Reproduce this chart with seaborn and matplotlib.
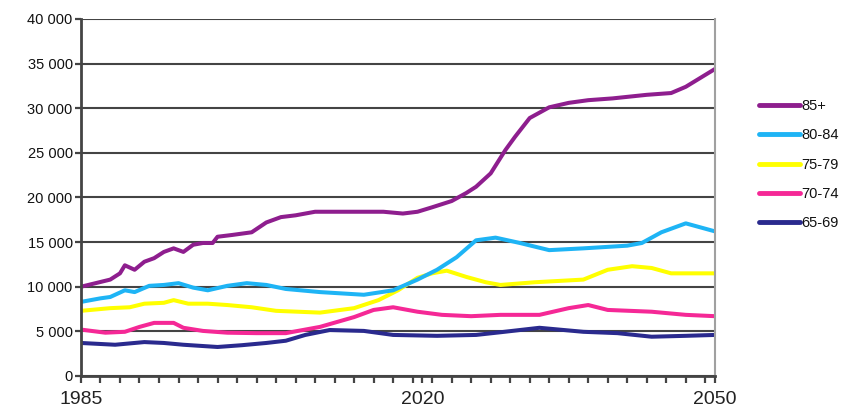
import matplotlib
matplotlib.use('Agg')
import matplotlib.pyplot as plt
import matplotlib.ticker as mticker
import numpy as np
import pandas as pd
import seaborn as sns

sns.set_style('white')
plt.rcParams['font.family'] = ['Liberation Sans', 'DejaVu Sans']

# data
years_85 = [1985, 1988, 1989, 1989.5, 1990.5, 1991.5, 1992.5, 1993.5, 1994.5, 1995.5,
            1996.5, 1997.5, 1998.5, 1999, 2000.5, 2002.5, 2004, 2005.5, 2007, 2009,
            2013, 2016, 2018, 2019.5, 2021, 2023, 2024.5, 2025.5, 2027, 2028.5,
            2029.5, 2031, 2033, 2035, 2037, 2039.5, 2043, 2045.5, 2047, 2050]
vals_85 = [10000, 10800, 11500, 12400, 11900, 12800, 13200, 13900, 14300, 13900,
           14700, 14900, 14900, 15600, 15800, 16100, 17200, 17800, 18000, 18400,
           18400, 18400, 18200, 18400, 18900, 19600, 20500, 21200, 22700, 25300,
           26800, 28900, 30100, 30600, 30900, 31100, 31500, 31700, 32400, 34400]

years_80 = [1985, 1987, 1988, 1989.5, 1990.5, 1992, 1993.5, 1995, 1996.5, 1998,
            2000, 2002, 2004, 2006, 2009.5, 2014, 2017, 2019.5, 2021.5, 2023.5,
            2025.5, 2027.5, 2030, 2033, 2036.5, 2041, 2042.5, 2044.5, 2047, 2050]
vals_80 = [8300, 8700, 8850, 9600, 9400, 10100, 10200, 10400, 9900, 9600,
           10100, 10400, 10200, 9750, 9400, 9100, 9600, 10800, 11900, 13300,
           15200, 15500, 14900, 14100, 14300, 14600, 14900, 16100, 17100, 16200]

years_75 = [1985, 1988, 1990, 1991.5, 1993.5, 1994.5, 1996, 1998, 2000, 2002.5,
            2005, 2009.5, 2013, 2015.5, 2017.5, 2019.5, 2021, 2022.5, 2024.5, 2026.5,
            2028, 2031.5, 2036.5, 2039, 2041.5, 2043.5, 2045.5, 2050]
vals_75 = [7300, 7600, 7700, 8100, 8200, 8500, 8100, 8100, 7950, 7700,
           7300, 7100, 7600, 8500, 9600, 11000, 11500, 11800, 11100, 10500,
           10200, 10500, 10800, 11900, 12300, 12100, 11500, 11500]

years_70 = [1985, 1987.5, 1989.5, 1991, 1992.5, 1994.5, 1995.5, 1997.5, 2000, 2003,
            2006, 2009.5, 2013, 2015, 2017, 2019.5, 2022, 2025, 2028, 2032,
            2035, 2037, 2039, 2043.5, 2047, 2050]
vals_70 = [5200, 4850, 4950, 5500, 5950, 5950, 5400, 5050, 4850, 4800,
           4800, 5500, 6600, 7400, 7700, 7200, 6850, 6700, 6850, 6850,
           7600, 7950, 7400, 7200, 6850, 6700]

years_65 = [1985, 1988.5, 1991.5, 1993.5, 1995.5, 1999, 2001.5, 2004, 2006, 2008,
            2010.5, 2014, 2017, 2021.5, 2025.5, 2028, 2032, 2036.5, 2040, 2043.5,
            2047, 2050]
vals_65 = [3700, 3500, 3800, 3700, 3500, 3250, 3450, 3700, 3950, 4600,
           5150, 5050, 4600, 4500, 4600, 4900, 5400, 4950, 4800, 4400,
           4500, 4600]

groups = ['85+', '80-84', '75-79', '70-74', '65-69']
colors = {'85+': '#8E1E8E', '80-84': '#1EB4F5', '75-79': '#FFFF00',
          '70-74': '#F52896', '65-69': '#2A2A8E'}

series = {'85+': (years_85, vals_85), '80-84': (years_80, vals_80),
          '75-79': (years_75, vals_75), '70-74': (years_70, vals_70),
          '65-69': (years_65, vals_65)}
frames = []
for g in groups:
    yrs, vals = series[g]
    frames.append(pd.DataFrame({'year': yrs, 'value': vals, 'group': g}))
df = pd.concat(frames, ignore_index=True)

fig = plt.figure(figsize=(8.46, 4.12), dpi=100)
ax = fig.add_axes([0.0957, 0.0874, 0.7495, 0.8666])

sns.lineplot(data=df, x='year', y='value', hue='group', hue_order=groups[::-1],
             palette=colors, linewidth=2.9, ax=ax, legend=False, sort=True)

ax.set_xlim(1985, 2050)
ax.set_ylim(0, 40000)
ax.set_yticks(np.arange(0, 40001, 5000))
ax.yaxis.set_major_formatter(mticker.FuncFormatter(
    lambda v, p: f'{int(v):,}'.replace(',', ' ')))
ax.set_xticks([1985, 2020, 2050])
ax.set_xticks(np.arange(1985, 2051, 2), minor=True)
ax.set_xlabel('')
ax.set_ylabel('')

ax.grid(axis='y', color='#444444', linewidth=1.5)
ax.set_axisbelow(True)
for side in ['left', 'bottom']:
    ax.spines[side].set_color('#444444')
    ax.spines[side].set_linewidth(2.0)
ax.spines['right'].set_color('#a0a0a0')
ax.spines['right'].set_linewidth(1.5)
ax.spines['top'].set_visible(False)

ax.tick_params(axis='y', which='major', direction='out', length=4, width=1.6,
               color='#444444', labelsize=10.5, pad=2, left=True,
               labelcolor='#111111')
ax.tick_params(axis='x', which='both', direction='out', length=5, width=1.6,
               color='#444444', bottom=True)
ax.tick_params(axis='x', which='major', labelsize=14, pad=6, labelcolor='#222222')

handles = [plt.Line2D([], [], color=colors[g], linewidth=3.5) for g in groups]
fig.legend(handles, groups, loc='center left', bbox_to_anchor=(0.882, 0.6),
           frameon=False, fontsize=10.5, handlelength=2.8, handletextpad=0.1,
           labelspacing=1.05, labelcolor='#111111')

plt.savefig('out.png', dpi=100)
